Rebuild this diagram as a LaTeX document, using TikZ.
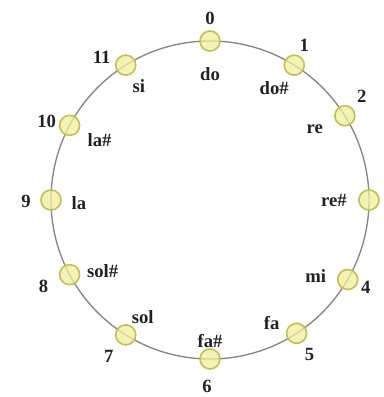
\documentclass[tikz,border=0pt]{standalone}
\usepackage{fontspec}
\setmainfont{Liberation Serif}
\usepackage{xcolor}
\usepackage{tikz}
\definecolor{ringgray}{HTML}{858585}
\definecolor{dotfill}{HTML}{F1EE9C}
\definecolor{dotline}{HTML}{C4BE55}
\definecolor{labelink}{HTML}{222222}
\tikzstyle{ring} = [draw=ringgray, line width=1pt]
\tikzstyle{pitch} = [circle, minimum size=15pt, inner sep=0pt, draw=dotline, line width=1.2pt, fill=dotfill, fill opacity=0.75]
\tikzstyle{num} = [inner sep=0pt, font=\bfseries\fontsize{14}{14}\selectfont, text=labelink]
\tikzstyle{note} = [inner sep=0pt, font=\bfseries\fontsize{14}{14}\selectfont, text=labelink]

\begin{document}
\begin{tikzpicture}[x=0.75pt, y=0.75pt]
    \useasboundingbox (-210,-197) rectangle (173,200);
    % Define the ring
    \coordinate (c) at (0,0);
    \draw [ring] (c) circle [radius=119.25pt];

    % Define the twelve pitch classes
    \node (p0) [pitch] at (90:159) {};
    \node (p1) [pitch] at (58:159) {};
    \node (p2) [pitch] at (32:159) {};
    \node (p3) [pitch] at (0:159) {};
    \node (p4) [pitch] at (-30:159) {};
    \node (p5) [pitch] at (-57:159) {};
    \node (p6) [pitch] at (-90:159) {};
    \node (p7) [pitch] at (-122:159) {};
    \node (p8) [pitch] at (-152:159) {};
    \node (p9) [pitch] at (180:159) {};
    \node (p10) [pitch] at (152:159) {};
    \node (p11) [pitch] at (122:159) {};

    % Numbers outside
    \node (n0) [num] at ([shift={(0,23)}]p0) {0};
    \node (n1) [num] at ([shift={(10,20)}]p1) {1};
    \node (n2) [num] at ([shift={(17,19)}]p2) {2};
    \node (n3) [num] at ([shift={(21,0)}]p3) {3};
    \node (n4) [num] at ([shift={(18,-8)}]p4) {4};
    \node (n5) [num] at ([shift={(13,-21)}]p5) {5};
    \node (n6) [num] at ([shift={(-3,-27)}]p6) {6};
    \node (n7) [num] at ([shift={(-17,-22)}]p7) {7};
    \node (n8) [num] at ([shift={(-26,-12)}]p8) {8};
    \node (n9) [num] at ([shift={(-25,-1)}]p9) {9};
    \node (n10) [num] at ([shift={(-23,4)}]p10) {10};
    \node (n11) [num] at ([shift={(-24,8)}]p11) {11};

    % Note names inside
    \node (do) [note] at ([shift={(0,-33)}]p0) {do};
    \node (dos) [note] at ([shift={(-20,-23)}]p1) {do\#};
    \node (re) [note] at ([shift={(-30,-13)}]p2) {re};
    \node (res) [note] at ([shift={(-35,0)}]p3) {re\#};
    \node (mi) [note] at ([shift={(-32,3)}]p4) {mi};
    \node (fa) [note] at ([shift={(-25,10)}]p5) {fa};
    \node (fas) [note] at ([shift={(0,18)}]p6) {fa\#};
    \node (sol) [note] at ([shift={(17,18)}]p7) {sol};
    \node (sols) [note] at ([shift={(33,4)}]p8) {sol\#};
    \node (la) [note] at ([shift={(28,-3)}]p9) {la};
    \node (las) [note] at ([shift={(30,-15)}]p10) {la\#};
    \node (si) [note] at ([shift={(13,-21)}]p11) {si};
\end{tikzpicture}
\end{document}
